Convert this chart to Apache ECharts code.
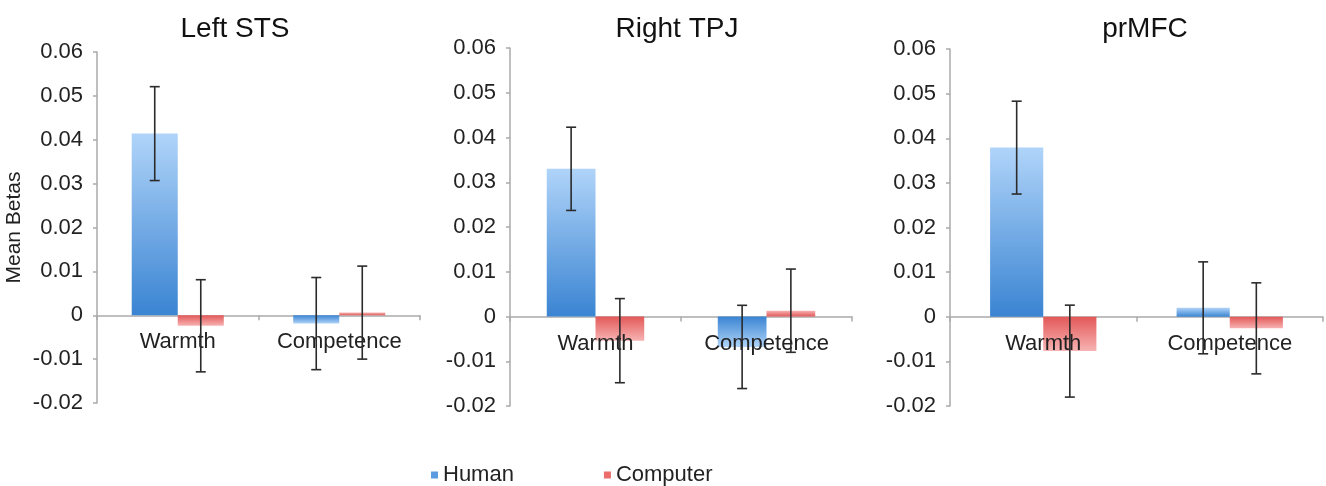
<html style="height: 100%">
<head>
	<meta charset="utf-8">
	<script type="text/javascript" src="https://cdn.jsdelivr.net/npm/echarts@6/dist/echarts.min.js"></script>
</head>

<body style="height: 100%; margin: 0; background: #fff">
	<div id="container" style="height:486px;width:1326px"></div>
</body>

<script type="text/javascript">
	// values
	let panels = ['Left STS', 'Right TPJ', 'prMFC']
	let categories = ['Warmth', 'Competence']
	let humanMean = [[0.0414, -0.0019], [0.0330, -0.0068], [0.0379, 0.0020]]
	let humanErr = [[0.0107, 0.0105], [0.0093, 0.0093], [0.0104, 0.0103]]
	let computerMean = [[-0.0024, 0.0006], [-0.0054, 0.0013], [-0.0077, -0.0026]]
	let computerErr = [[0.0105, 0.0106], [0.0094, 0.0093], [0.0103, 0.0102]]
	let yTicks = { min: -0.02, max: 0.06, step: 0.01 }

	var dom = document.getElementById("container");
	var myChart = echarts.init(dom);

	var FONT = '"Liberation Sans", Arial, sans-serif'
	var GAP = 0.43

	// grid boxes for the 3 panels (px)
	var grids = [
		{ left: 97, top: 52, width: 323, height: 351 },
		{ left: 510, top: 48, width: 342, height: 358 },
		{ left: 950, top: 49, width: 373, height: 357 }
	]
	var titleX = [230, 672, 1140]

	function grad(light, dark, positive) {
		// far end light, base (axis) dark
		return new echarts.graphic.LinearGradient(0, 0, 0, 1, positive ?
			[{ offset: 0, color: light }, { offset: 1, color: dark }] :
			[{ offset: 0, color: dark }, { offset: 1, color: light }])
	}

	function barData(vals, light, dark) {
		return vals.map(v => ({ value: v, itemStyle: { color: grad(light, dark, v >= 0) } }))
	}

	function errRender(side) {
		return function (params, api) {
			var c = api.value(0), v = api.value(1), e = api.value(2);
			var band = api.size([1, 0])[0];
			var bw = band * (1 - GAP) / 2;
			var hi = api.coord([c, v + e]), lo = api.coord([c, v - e]);
			var x = hi[0] + side * bw / 2;
			var cap = 5;
			var st = { stroke: '#2b2b2b', lineWidth: 1.6 };
			return {
				type: 'group', children: [
					{ type: 'line', shape: { x1: x, y1: hi[1], x2: x, y2: lo[1] }, style: st },
					{ type: 'line', shape: { x1: x - cap, y1: hi[1], x2: x + cap, y2: hi[1] }, style: st },
					{ type: 'line', shape: { x1: x - cap, y1: lo[1], x2: x + cap, y2: lo[1] }, style: st }
				]
			};
		}
	}

	// category names sit just under the zero line, like the original
	function catLabel(params, api) {
		var p = api.coord([api.value(0), 0]);
		return {
			type: 'text',
			style: {
				x: p[0], y: p[1] + 16, text: categories[api.value(0)],
				align: 'center', verticalAlign: 'top',
				fontSize: 22, fontFamily: FONT, fill: '#222'
			}
		};
	}

	var option = {
		animation: false,
		title: [],
		grid: [],
		xAxis: [],
		yAxis: [],
		series: [],
		legend: {
			left: 426,
			top: 459,
			itemWidth: 7,
			itemHeight: 7,
			itemGap: 90,
			icon: 'rect',
			textStyle: { fontSize: 22, color: '#222', fontFamily: FONT },
			data: [
				{ name: 'Human', itemStyle: { color: '#5b9be0' } },
				{ name: 'Computer', itemStyle: { color: '#ec6b6b' } }
			]
		}
	}

	panels.forEach((p, i) => {
		option.title.push({
			text: p, left: titleX[i], top: 10, textAlign: 'center',
			textStyle: { fontSize: 28, fontWeight: 'normal', color: '#111', fontFamily: FONT }
		})
		option.grid.push(grids[i])
		option.xAxis.push({
			type: 'category', gridIndex: i, data: categories,
			axisLine: { onZero: true, lineStyle: { color: '#aaa', width: 1.5 } },
			axisTick: { show: true, length: 5, lineStyle: { color: '#aaa', width: 1.5 } },
			axisLabel: { show: false }
		})
		option.yAxis.push({
			type: 'value', gridIndex: i, min: yTicks.min, max: yTicks.max, interval: yTicks.step,
			name: i == 0 ? 'Mean Betas' : '',
			nameLocation: 'middle', nameGap: 72, nameRotate: 90,
			nameTextStyle: { fontSize: 21, color: '#222', fontFamily: FONT },
			splitLine: { show: false },
			axisLine: { show: true, lineStyle: { color: '#aaa', width: 1.5 } },
			axisTick: { show: true, length: 4, lineStyle: { color: '#aaa', width: 1.5 } },
			axisLabel: {
				margin: 14, fontSize: 22, color: '#222', fontFamily: FONT,
				formatter: v => '' + (+v.toFixed(2))
			}
		})
		option.series.push({
			name: 'Human', type: 'bar', xAxisIndex: i, yAxisIndex: i, z: 2,
			barGap: 0, barCategoryGap: (GAP * 100) + '%',
			data: barData(humanMean[i], '#b0d4f9', '#3a84d2')
		})
		option.series.push({
			name: 'Computer', type: 'bar', xAxisIndex: i, yAxisIndex: i, z: 2,
			barGap: 0, barCategoryGap: (GAP * 100) + '%',
			data: barData(computerMean[i], '#f7b3b3', '#e35858')
		})
		option.series.push({
			type: 'custom', xAxisIndex: i, yAxisIndex: i, z: 3, silent: true,
			renderItem: catLabel,
			data: categories.map((c, k) => [k])
		})
		option.series.push({
			type: 'custom', xAxisIndex: i, yAxisIndex: i, z: 5,
			renderItem: errRender(-1),
			data: humanMean[i].map((v, k) => [k, v, humanErr[i][k]])
		})
		option.series.push({
			type: 'custom', xAxisIndex: i, yAxisIndex: i, z: 5,
			renderItem: errRender(1),
			data: computerMean[i].map((v, k) => [k, v, computerErr[i][k]])
		})
	})

	myChart.setOption(option);
</script>

</html>
